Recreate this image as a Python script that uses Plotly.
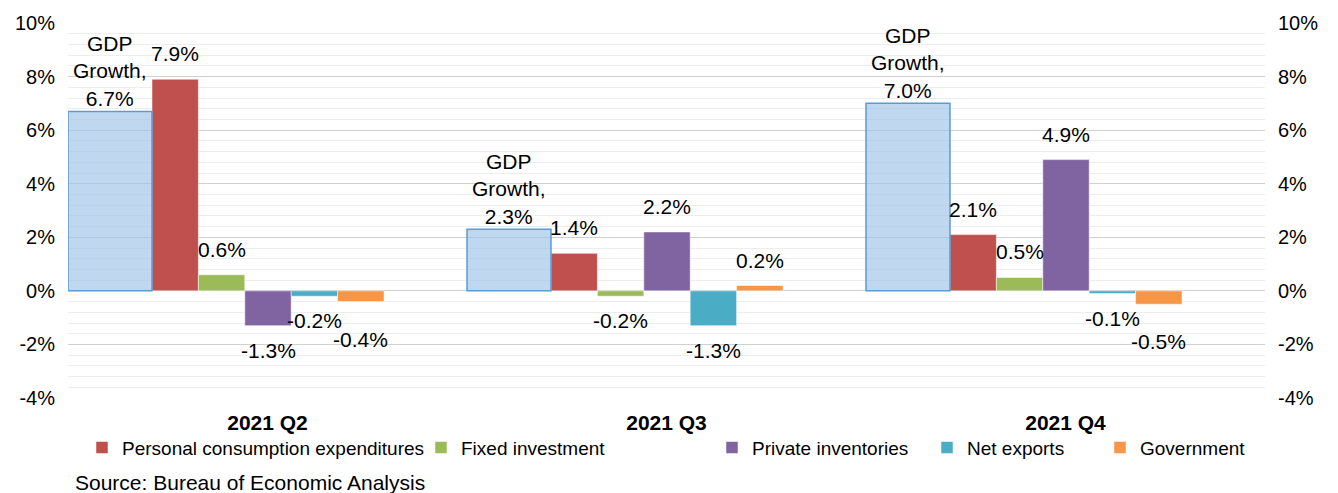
import plotly.graph_objects as go

# ---- data ----
quarters = ["2021 Q2", "2021 Q3", "2021 Q4"]
gdp_growth = [6.7, 2.3, 7.0]
series_names = ["Personal consumption expenditures", "Fixed investment",
                "Private inventories", "Net exports", "Government"]
pce = [7.9, 1.4, 2.1]
fixed_investment = [0.6, -0.2, 0.5]
private_inventories = [-1.3, 2.2, 4.9]
net_exports = [-0.2, -1.3, -0.1]
government = [-0.4, 0.2, -0.5]
y_ticks = [-4, -2, 0, 2, 4, 6, 8, 10]

# ---- style ----
FONT = "Liberation Sans, Arial, sans-serif"
FS_LABEL = 21
FS_TICK = 20
FS_LEG = 19
FS_CAT = 21
colors = ["#C0504D", "#9BBB59", "#8064A2", "#4BACC6", "#F79646"]
components = [pce, fixed_investment, private_inventories, net_exports, government]

L, R, T, B = 68, 73, 20, 95
W, H = 1338, 493
PW = W - L - R
PH = H - T - B

gdp_w = 0.2105
comp_w = 0.1163
xs = list(range(len(quarters)))

fig = go.Figure()

# GDP bar (secondary axis, semi-transparent)
fig.add_trace(go.Bar(
    x=xs, y=gdp_growth, width=gdp_w, offset=-0.5,
    marker=dict(color="rgba(157,195,230,0.65)", line=dict(color="#5B9BD5", width=1.5)),
    yaxis="y2", showlegend=False, name="GDP Growth", hoverinfo="y"))

annotations = []
for i, q in enumerate(quarters):
    v = gdp_growth[i]
    annotations.append(dict(
        x=i - 0.5 + gdp_w / 2, y=v, xref="x", yref="y", yanchor="bottom",
        text=f"GDP<br>Growth,<br>{v:.1f}%", showarrow=False, yshift=-1,
        font=dict(family=FONT, size=FS_LABEL, color="#000")))

legend_text_px = [120, 459, 750, 965, 1138]
extra_shift = [0, 0, 0, 0, 13]
for k, (name, vals, col) in enumerate(zip(series_names, components, colors)):
    off = -0.5 + gdp_w + k * comp_w
    lname = "legend" if k == 0 else f"legend{k+1}"
    fig.add_trace(go.Bar(
        x=xs, y=vals, width=comp_w, offset=off, name=name,
        marker=dict(color=col, line=dict(color="rgba(255,255,255,0.5)", width=1)),
        legend=lname))
    for i, v in enumerate(vals):
        pos = v >= 0
        annotations.append(dict(
            x=i + off + comp_w / 2, y=v, xref="x", yref="y",
            yanchor="bottom" if pos else "top",
            text=f"{v:.1f}%", showarrow=False,
            yshift=(12 if pos else -(11 + extra_shift[k])),
            font=dict(family=FONT, size=FS_LABEL, color="#000")))

annotations.append(dict(
    x=(73 - L) / PW, y=(H - B - 483) / PH, xref="paper", yref="paper",
    xanchor="left", yanchor="middle", showarrow=False,
    text="Source: Bureau of Economic Analysis",
    font=dict(family=FONT, size=21, color="#000")))

legends = {}
for k in range(5):
    key = "legend" if k == 0 else f"legend{k+1}"
    legends[key] = dict(
        x=(legend_text_px[k] + 2 - 40 - L) / PW, xanchor="left",
        y=(H - B - 448) / PH, yanchor="middle", orientation="h",
        font=dict(family=FONT, size=FS_LEG, color="#000"),
        bgcolor="rgba(0,0,0,0)", borderwidth=0)

yax = dict(
    range=[-4, 10], tickvals=y_ticks, ticktext=[f"{t}%" for t in y_ticks],
    showgrid=True, gridcolor="#D0D0D0", gridwidth=1,
    zeroline=False, showline=False, ticks="",
    tickfont=dict(family=FONT, size=FS_TICK, color="#000"),
    minor=dict(dtick=0.4, tick0=0, showgrid=True, gridcolor="#EDEDED", gridwidth=1),
    ticklabelstandoff=12)

fig.update_layout(
    width=W, height=H,
    margin=dict(l=L, r=R, t=T, b=B),
    paper_bgcolor="white", plot_bgcolor="white",
    barmode="overlay",
    xaxis=dict(range=[-0.5, 2.5], tickvals=xs,
               ticktext=[f"<b>{q}</b>" for q in quarters],
               showgrid=False, zeroline=False, showline=False,
               ticks="outside", ticklen=6, tickcolor="rgba(0,0,0,0)",
               tickfont=dict(family=FONT, size=FS_CAT, color="#000")),
    yaxis=yax,
    yaxis2=dict(yax, overlaying="y", side="right", showgrid=False,
                minor=dict(showgrid=False)),
    annotations=annotations,
    **legends,
)

fig.write_html("out.html")
